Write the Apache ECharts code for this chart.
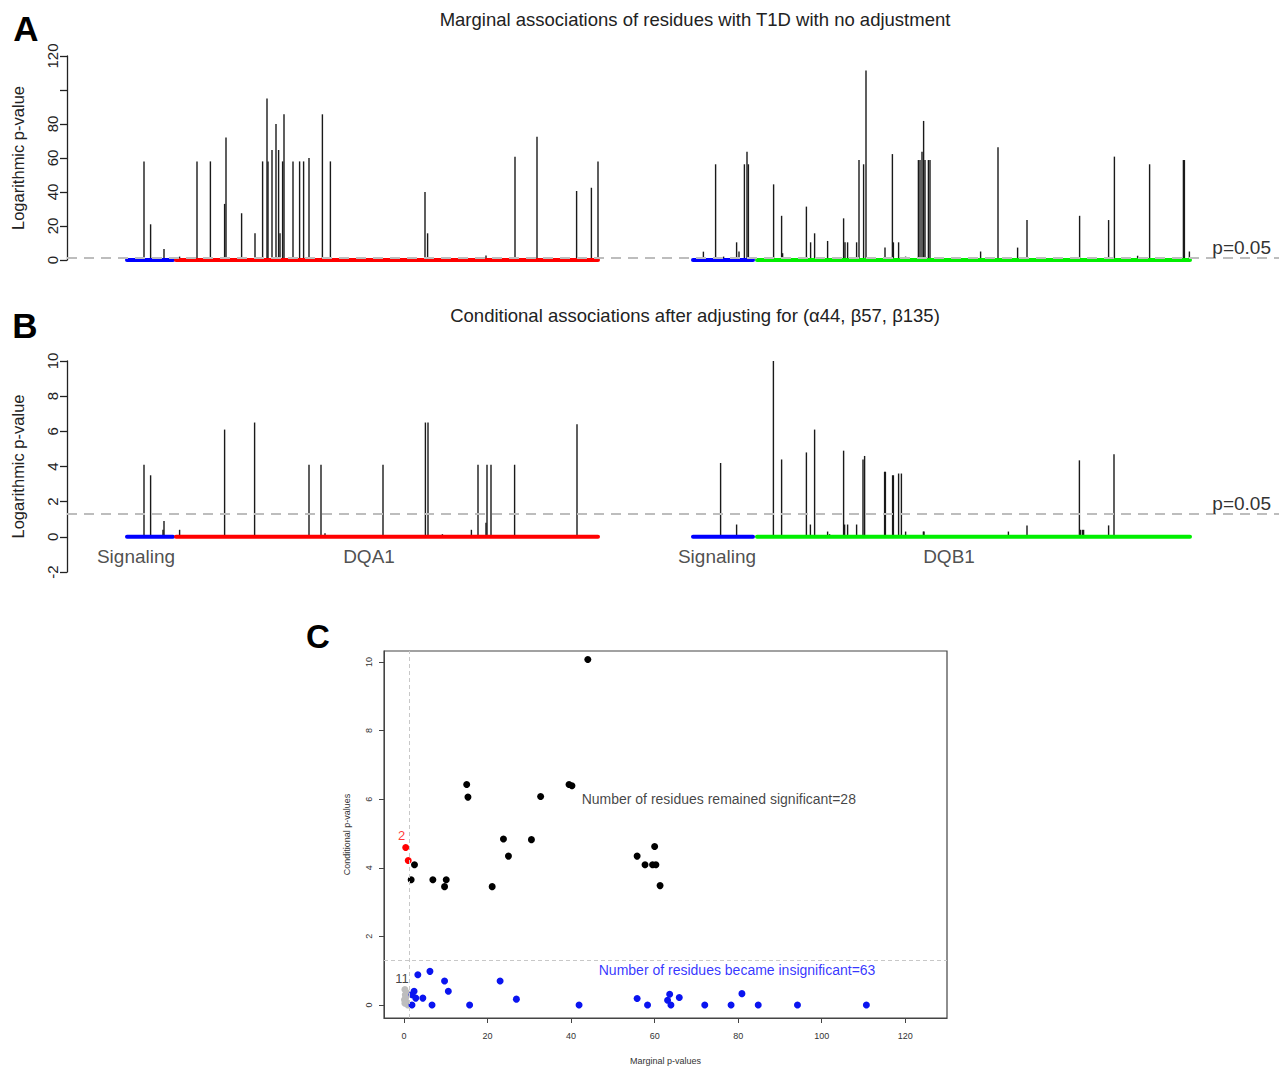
<!DOCTYPE html>
<html><head><meta charset="utf-8">
<script src="https://cdn.jsdelivr.net/npm/echarts@6/dist/echarts.min.js"></script>
<style>html,body{margin:0;padding:0;background:#fff}#c{width:1285px;height:1066px}</style>
</head><body><div id="c"></div>
<script>
// ---- Panel A: marginal -log10 p-values by residue site ----
const sitesA = [38.5,41.8,48.5,56.3,65,71.7,78.8,79.5,87.3,94,97.8,100,100.5,102.5,104.5,105.8,106.5,107.8,108.5,113,116.3,118.3,121,127.7,131.7,179,180.3,205.7,209.5,224,235,247,254.8,262.2,265.5,
  318.2,324.3,328.3,334.8,336,338.7,340,340.7,347.3,353.3,357.3,357.8,369.7,371.8,373.8,380.3,388.3,389,390.3,394.8,396,398.3,399.5,409,412.7,413.2,415.8,417.3,419.3,425.7,426.5,427.5,428.3,429,430.7,431.5,456.8,465.5,475.3,480,506.3,520.8,523.7,535.3,541.3,558.2,558.7,561.2];
const logpA = [58,21,6.5,2,58,58,33,72,27.5,15.7,58,95,58,64.7,80,64.7,15.7,58,85.7,58,58,58,60,85.7,58,40,15.7,1,2.7,60.8,72.5,1.5,40.6,42.5,58,
  4.9,56.3,2,10.4,5,56.3,63.7,56.3,1,44.5,26,4,31.4,10.4,15.7,11.2,24.5,10.4,10.4,10.4,58.8,56.3,111.4,7.3,62.3,10.4,10.4,1,2,58.8,58.8,63.7,81.8,58.8,58.8,58.8,5,66.3,7.3,23.5,26,23.5,60.8,2.5,56.3,58.8,58.8,5];
// ---- Panel B: conditional -log10 p-values ----
const sitesB = [38.5,41.8,48,48.5,56.3,78.8,93.8,121,127,129,158,179.2,180.5,187.7,202.2,205.5,209.5,210,212,223.8,255,
  318.2,324.3,326.8,328.2,334.8,336,339,340.5,347.3,353.2,357.3,357.8,369.7,371.7,373.8,380.3,381.3,388.3,388.8,390.3,394.8,398,398.8,408.8,409.2,412.8,413.2,415.8,417.2,419.3,428.2,428.5,456.8,465.3,470.7,480,506.2,506.7,507.7,508.3,520.8,523.5,535.3,541.3,561];
const logpB = [4.1,3.5,0.4,0.9,0.4,6.1,6.5,4.1,4.1,0.2,4.1,6.5,6.5,0.15,0.4,4.1,0.8,4.1,4.1,4.1,6.4,
  0.1,0.1,4.2,0.1,0.7,0.1,0.1,0.1,0.1,10.1,4.4,0.1,4.8,0.7,6.1,0.3,0.15,4.9,0.7,0.7,0.7,4.4,4.6,3.7,3.7,3.5,3.5,3.6,3.6,0.3,0.3,0.3,0.1,0.1,0.3,0.65,4.35,0.4,0.4,0.4,0.65,4.7,0.1,0.1,0.1];
// gene segments (start, end) and colours
const segNames = ['Signaling','DQA1','Signaling','DQB1'];
const segStart = [30, 54.5, 313, 345];
const segEnd = [53, 265.5, 343, 561.5];
const segColors = ['#0000ff','#ff0000','#0000ff','#00ee00'];
const segLabelX = [34.5, 151, 325, 441];
const pThreshold = 1.3;
// ---- Panel C: marginal vs conditional ----
const sigX = [44.0,15.0,15.3,39.5,40.2,32.7,23.8,30.5,25.0,2.5,1.7,6.9,10.1,9.7,21.1,55.8,57.7,59.5,60.3,60.0,61.3];
const sigY = [10.07,6.43,6.06,6.43,6.39,6.08,4.84,4.82,4.34,4.09,3.65,3.65,3.65,3.45,3.45,4.34,4.09,4.09,4.09,4.62,3.48];
const redX = [0.4,1.0];
const redY = [4.59,4.21];
const insigX = [3.3,6.2,9.7,23.0,10.6,2.4,1.9,2.8,4.5,1.9,6.7,15.7,26.9,41.9,55.8,58.3,63.6,63.1,63.9,65.9,72.0,78.3,80.9,84.8,94.2,110.7];
const insigY = [0.88,0.98,0.70,0.70,0.40,0.40,0.30,0.20,0.20,0,0,0,0.17,0,0.19,0,0.31,0.14,0,0.22,0,0,0.33,0,0,0];
const greyX = [0.2,0.3,0.1,0.6,0.9,0.4,0.7,0.2];
const greyY = [0.45,0.3,0.15,0.08,0.0,0.22,0.35,0.05];
const xTicksC = [0,20,40,60,80,100,120];
const yTicksC = [0,2,4,6,8,10];
const noteText = ['Number of residues remained significant=28','Number of residues became insignificant=63','2','11'];
const noteX = [42.4, 46.5, -0.6, -0.5];
const noteY = [6.0, 1.02, 4.93, 0.77];
const noteColor = ['#111','#0000ff','#ff0000','#111'];
const noteAlign = ['left','left','center','center'];

const FONT = "'Liberation Sans', Arial, sans-serif";
const zip = (a,b) => a.map((v,i)=>[v,b[i]]);
const chart = echarts.init(document.getElementById('c'), null, {renderer:'svg'});

function spikeAxisY(gi, min, max, interval, hide){
  return {gridIndex: gi, type:'value', min, max, interval,
    name:'Logarithmic p-value', nameLocation:'middle', nameGap:41,
    nameTextStyle:{fontFamily:FONT, fontSize:16.5, color:'#222'},
    axisLine:{show:true, lineStyle:{color:'#222', width:1.3}},
    axisTick:{show:true, length:7, lineStyle:{color:'#222', width:1.3}},
    axisLabel:{rotate:90, fontFamily:FONT, fontSize:15, color:'#222', margin:7,
      formatter: v => (hide && v===hide) ? '' : String(v)},
    splitLine:{show:false}};
}
const series = [];
[[sitesA,logpA,0],[sitesB,logpB,1]].forEach(([xs,ys,gi])=>{
  series.push({type:'bar', xAxisIndex:gi, yAxisIndex:gi, data: zip(xs,ys), barWidth:1.4,
    itemStyle:{color:'#1a1a1a'}, silent:true, z:2,
    markLine:{silent:true, symbol:'none', data:[{yAxis:pThreshold}],
      lineStyle:{type:[10,7], color:'#bdbdbd', width:2},
      label:{show:true, position:'insideEndTop', formatter:'p=0.05', fontFamily:FONT, fontSize:19, color:'#333', padding:[0,8,0,0], distance:[0,1]}}});
  segStart.forEach((s,i)=>{
    series.push({type:'line', xAxisIndex:gi, yAxisIndex:gi, data:[[s,0],[segEnd[i],0]], symbol:'none', clip:false, z:3,
      lineStyle:{color:segColors[i], width:4, cap:'round'}, silent:true});
  });
});
series.push({type:'scatter', xAxisIndex:1, yAxisIndex:1, data: segLabelX.map(x=>[x,-1.1]), symbolSize:1,
  itemStyle:{color:'transparent'}, silent:true,
  label:{show:true, position:'inside', formatter: p => segNames[p.dataIndex], fontFamily:FONT, fontSize:19, color:'#222'}});
// Panel C
const dot = c => ({color:c, opacity:1});
series.push({type:'scatter', xAxisIndex:2, yAxisIndex:2, data: zip(greyX,greyY), symbolSize:7, itemStyle:dot('#bdbdbd'), silent:true,
  markLine:{silent:true, symbol:'none', data:[{xAxis:pThreshold},{yAxis:pThreshold}], label:{show:false},
    lineStyle:{type:[4,3], color:'#c8c8c8', width:1}}});
series.push({type:'scatter', xAxisIndex:2, yAxisIndex:2, data: zip(insigX,insigY), symbolSize:7, itemStyle:dot('#0a14f0'), silent:true});
series.push({type:'scatter', xAxisIndex:2, yAxisIndex:2, data: zip(sigX,sigY), symbolSize:7, itemStyle:dot('#000'), silent:true});
series.push({type:'scatter', xAxisIndex:2, yAxisIndex:2, data: zip(redX,redY), symbolSize:7, itemStyle:dot('#ff0000'), silent:true});
series.push({type:'scatter', xAxisIndex:2, yAxisIndex:2, symbolSize:1, itemStyle:{color:'transparent'}, silent:true,
  data: noteText.map((t,i)=>({value:[noteX[i],noteY[i]],
    label:{show:true, formatter:t, position: noteAlign[i]==='left' ? 'right' : 'inside', distance:0,
      fontFamily:FONT, fontSize: noteAlign[i]==='left' ? 14 : 13, color:noteColor[i]}}))});

const option = {
  animation:false,
  backgroundColor:'#fff',
  grid:[
    {left:67, top:56, width:1212, height:204},
    {left:67, top:361, width:1212, height:211},
    {left:384, top:651, width:563, height:368, show:true, borderColor:'#444', borderWidth:1.2}
  ],
  xAxis:[
    {gridIndex:0, type:'value', min:0, max:606, show:false},
    {gridIndex:1, type:'value', min:0, max:606, show:false},
    {gridIndex:2, type:'value', min:-4.8, max:130, name:'Marginal p-values', nameLocation:'middle', nameGap:38,
      nameTextStyle:{fontFamily:FONT, fontSize:9, color:'#333'},
      axisLine:{show:true, onZero:false, lineStyle:{color:'#444'}},
      axisTick:{show:true, length:5, customValues:xTicksC, lineStyle:{color:'#444'}},
      axisLabel:{customValues:xTicksC, fontFamily:FONT, fontSize:9, color:'#333', margin:13},
      splitLine:{show:false}}
  ],
  yAxis:[
    spikeAxisY(0,0,120,20,100),
    spikeAxisY(1,-2,10,2,null),
    {gridIndex:2, type:'value', min:-0.38, max:10.32, name:'Conditional p-values', nameLocation:'middle', nameGap:33,
      nameTextStyle:{fontFamily:FONT, fontSize:9, color:'#333'},
      axisLine:{show:true, onZero:false, lineStyle:{color:'#444'}},
      axisTick:{show:true, length:5, customValues:yTicksC, lineStyle:{color:'#444'}},
      axisLabel:{customValues:yTicksC, rotate:90, fontFamily:FONT, fontSize:9, color:'#333', margin:11},
      splitLine:{show:false}}
  ],
  graphic:[
    {type:'text', x:695, y:19, style:{text:'Marginal associations of residues with T1D with no adjustment', font:"18.5px "+FONT, fill:'#222', textAlign:'center', textVerticalAlign:'middle'}},
    {type:'text', x:695, y:315, style:{text:'Conditional associations after adjusting for (α44, β57, β135)', font:"18.5px "+FONT, fill:'#222', textAlign:'center', textVerticalAlign:'middle'}},
    {type:'text', x:26, y:28, style:{text:'A', font:"bold 35px "+FONT, fill:'#000', textAlign:'center', textVerticalAlign:'middle'}},
    {type:'text', x:25, y:325, style:{text:'B', font:"bold 35px "+FONT, fill:'#000', textAlign:'center', textVerticalAlign:'middle'}},
    {type:'text', x:318, y:636, style:{text:'C', font:"bold 33px "+FONT, fill:'#000', textAlign:'center', textVerticalAlign:'middle'}}
  ],
  series
};
chart.setOption(option);
</script></body></html>
